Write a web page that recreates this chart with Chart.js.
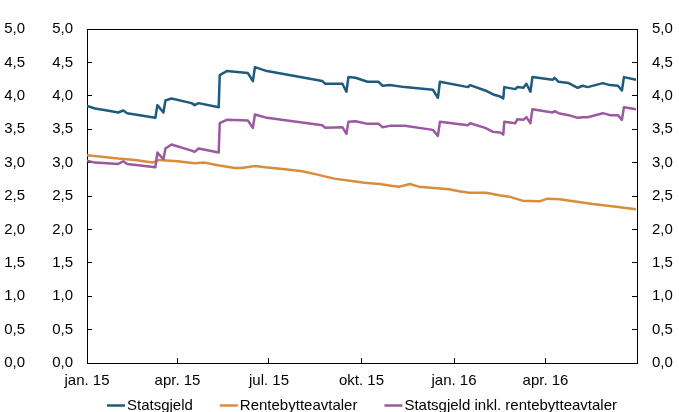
<!DOCTYPE html>
<html>
<head>
<meta charset="utf-8">
<script src="https://cdn.jsdelivr.net/npm/chart.js@4/dist/chart.umd.min.js"></script>
<style>
html,body{margin:0;padding:0;background:#fff;}
canvas{display:block;}
</style>
</head>
<body>
<canvas id="c" width="679" height="412"></canvas>
<script>
// x values are days since 1 Jan 2015
const tickDays = [0, 90, 181, 273, 365, 456, 547];
const tickLabels = ['jan. 15', 'apr. 15', 'jul. 15', 'okt. 15', 'jan. 16', 'apr. 16', ''];

const seriesNames = ['Statsgjeld', 'Rentebytteavtaler', 'Statsgjeld inkl. rentebytteavtaler'];
const seriesColors = ['#1f5b7c', '#d98c3c', '#9b599f'];

const statsDays = [0, 8, 20, 31, 36, 40, 68, 70, 76, 78, 84, 104, 107, 111, 131, 132, 139, 160, 165, 167, 179, 234, 237, 254, 258, 260, 267, 279, 290, 294, 301, 316, 344, 349, 351, 379, 381, 396, 404, 411, 414, 415, 426, 428, 434, 437, 441, 443, 463, 465, 469, 479, 488, 493, 498, 513, 520, 528, 532, 534, 546];
const statsValues = [3.85, 3.81, 3.78, 3.75, 3.78, 3.74, 3.67, 3.86, 3.75, 3.93, 3.96, 3.89, 3.86, 3.89, 3.83, 4.31, 4.37, 4.34, 4.22, 4.43, 4.37, 4.22, 4.18, 4.18, 4.06, 4.28, 4.27, 4.21, 4.21, 4.15, 4.16, 4.13, 4.09, 3.97, 4.21, 4.13, 4.16, 4.08, 4.02, 3.99, 3.96, 4.13, 4.10, 4.13, 4.12, 4.18, 4.06, 4.28, 4.24, 4.27, 4.21, 4.19, 4.12, 4.15, 4.13, 4.19, 4.16, 4.15, 4.08, 4.28, 4.24];

const swapDays = [0, 31, 48, 65, 72, 90, 107, 117, 130, 147, 154, 167, 177, 197, 214, 229, 246, 276, 291, 304, 311, 321, 330, 360, 370, 380, 397, 410, 420, 433, 450, 458, 470, 503, 520, 546];
const swapValues = [3.11, 3.06, 3.04, 3.00, 3.04, 3.02, 2.99, 3.00, 2.96, 2.92, 2.92, 2.95, 2.93, 2.90, 2.87, 2.82, 2.76, 2.70, 2.68, 2.65, 2.64, 2.68, 2.64, 2.60, 2.57, 2.55, 2.55, 2.51, 2.49, 2.43, 2.42, 2.46, 2.45, 2.38, 2.35, 2.30];

const inklDays = [0, 8, 20, 31, 36, 40, 68, 70, 76, 78, 84, 104, 107, 111, 131, 132, 139, 160, 165, 167, 179, 234, 237, 254, 258, 260, 267, 279, 290, 294, 301, 316, 344, 349, 351, 379, 381, 396, 404, 411, 414, 415, 426, 428, 434, 437, 441, 443, 463, 465, 469, 479, 488, 493, 498, 513, 520, 528, 532, 534, 546];
const inklValues = [3.03, 3.00, 2.99, 2.98, 3.02, 2.98, 2.93, 3.15, 3.05, 3.21, 3.27, 3.18, 3.16, 3.21, 3.15, 3.59, 3.64, 3.63, 3.52, 3.72, 3.67, 3.56, 3.52, 3.53, 3.43, 3.61, 3.62, 3.58, 3.58, 3.53, 3.55, 3.55, 3.49, 3.40, 3.61, 3.56, 3.59, 3.52, 3.46, 3.45, 3.42, 3.61, 3.59, 3.65, 3.64, 3.68, 3.59, 3.80, 3.75, 3.77, 3.74, 3.71, 3.67, 3.68, 3.68, 3.74, 3.71, 3.71, 3.64, 3.83, 3.80];

const toXY = (days, vals) => days.map((d, i) => ({x: d, y: vals[i]}));

const FONT = '"Liberation Sans", Arial, sans-serif';
const fmt = v => Number(v).toFixed(1).replace('.', ',');

const framePlugin = {
  id: 'frame',
  beforeDatasetsDraw(chart) {
    const {ctx, chartArea: a} = chart;
    ctx.save();
    ctx.strokeStyle = '#000';
    ctx.lineWidth = 1;
    ctx.strokeRect(Math.round(a.left) + 0.5, Math.round(a.top) + 0.5, Math.round(a.right - a.left), Math.round(a.bottom - a.top));
    ctx.restore();
  }
};

const legendPlugin = {
  id: 'customLegend',
  afterDraw(chart) {
    const {ctx, chartArea: a} = chart;
    ctx.save();
    ctx.font = '15px ' + FONT;
    ctx.textBaseline = 'middle';
    const lineLen = 18, gapText = 2, gapItem = 27;
    const ds = chart.data.datasets;
    const widths = ds.map(d => lineLen + gapText + ctx.measureText(d.label).width);
    const total = widths.reduce((s, w) => s + w, 0) + gapItem * (ds.length - 1);
    let x = (a.left + a.right) / 2 - total / 2;
    const y = 405.5;
    ds.forEach((d, i) => {
      ctx.strokeStyle = d.borderColor;
      ctx.lineWidth = 2.5;
      ctx.beginPath();
      ctx.moveTo(x, y);
      ctx.lineTo(x + lineLen, y);
      ctx.stroke();
      ctx.fillStyle = '#000';
      ctx.fillText(d.label, x + lineLen + gapText, y);
      x += widths[i] + gapItem;
    });
    ctx.restore();
  }
};

const yCommon = {
  type: 'linear', min: 0, max: 5,
  border: {display: false}
};

new Chart(document.getElementById('c'), {
  type: 'line',
  data: {
    datasets: [
      {label: seriesNames[0], data: toXY(statsDays, statsValues), borderColor: seriesColors[0], order: 2},
      {label: seriesNames[1], data: toXY(swapDays, swapValues), borderColor: seriesColors[1], order: 1},
      {label: seriesNames[2], data: toXY(inklDays, inklValues), borderColor: seriesColors[2], order: 0}
    ].map(d => Object.assign(d, {borderWidth: 2.5, pointRadius: 0, tension: 0, fill: false, yAxisID: 'y', borderJoinStyle: 'round'}))
  },
  options: {
    responsive: false,
    animation: false,
    devicePixelRatio: 1,
    layout: {padding: {top: 22, left: 0, right: 0, bottom: 0}},
    plugins: {legend: {display: false}, tooltip: {enabled: false}},
    scales: {
      x: {
        type: 'linear', min: 0, max: 547,
        border: {display: false},
        grid: {display: true, drawOnChartArea: false, drawTicks: true, tickLength: -5, color: '#000', tickColor: '#000', lineWidth: 1},
        afterBuildTicks: s => { s.ticks = tickDays.map(v => ({value: v})); },
        afterFit: s => { s.height = 49; },
        ticks: {
          autoSkip: false, maxRotation: 0, minRotation: 0, padding: 14,
          color: '#000', font: {family: FONT, size: 15},
          callback: (v, i) => tickLabels[i]
        }
      },
      yOuter: Object.assign({}, yCommon, {
        position: 'left', weight: 1,
        grid: {display: false, drawTicks: false},
        afterFit: s => { s.width = 28; },
        ticks: {stepSize: 0.5, padding: 3, color: '#000', font: {family: FONT, size: 15}, callback: v => fmt(v)}
      }),
      y: Object.assign({}, yCommon, {
        position: 'left', weight: 0,
        grid: {display: true, drawOnChartArea: false, drawTicks: true, tickLength: -5, color: '#000', tickColor: '#000', lineWidth: 1},
        afterFit: s => { s.width = 59; },
        ticks: {stepSize: 0.5, padding: 19, color: '#000', font: {family: FONT, size: 15}, callback: v => fmt(v)}
      }),
      yRight: Object.assign({}, yCommon, {
        position: 'right',
        grid: {display: true, drawOnChartArea: false, drawTicks: true, tickLength: -5, color: '#000', tickColor: '#000', lineWidth: 1},
        afterFit: s => { s.width = 42; },
        ticks: {stepSize: 0.5, padding: 20, color: '#000', font: {family: FONT, size: 15}, callback: v => fmt(v)}
      })
    }
  },
  plugins: [framePlugin, legendPlugin]
});
</script>
</body>
</html>
